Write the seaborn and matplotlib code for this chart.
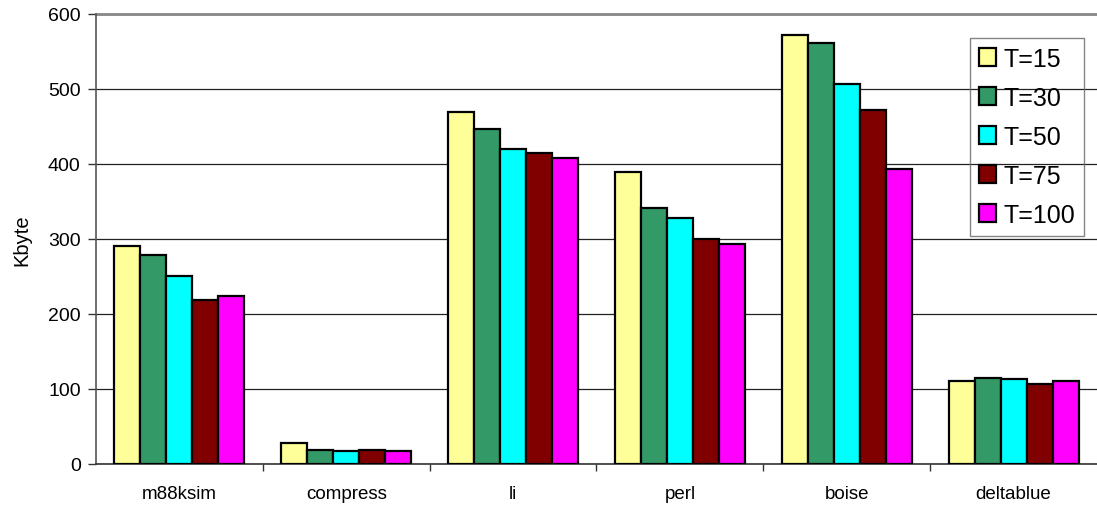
import matplotlib
matplotlib.use("Agg")
import matplotlib.pyplot as plt
import seaborn as sns
import pandas as pd
import numpy as np

programs = ["m88ksim", "compress", "li", "perl", "boise", "deltablue"]
series_labels = ["T=15", "T=30", "T=50", "T=75", "T=100"]
t15 = [291, 28, 469, 389, 572, 111]
t30 = [279, 19, 446, 341, 561, 114]
t50 = [251, 17, 420, 327, 506, 113]
t75 = [219, 18, 414, 300, 472, 106]
t100 = [224, 17, 408, 293, 393, 111]
colors = ["#FFFF99", "#339966", "#00FFFF", "#800000", "#FF00FF"]
y_ticks = [0, 100, 200, 300, 400, 500, 600]
y_label = "Kbyte"

series_values = [t15, t30, t50, t75, t100]
rows = []
for lab, vals in zip(series_labels, series_values):
    for p, v in zip(programs, vals):
        rows.append({"program": p, "T": lab, "kb": v})
df = pd.DataFrame(rows)

sns.set_theme(style="white")
plt.rcParams["font.family"] = ["Liberation Sans", "DejaVu Sans"]
plt.rcParams["text.color"] = "black"
plt.rcParams["axes.labelcolor"] = "black"
plt.rcParams["xtick.color"] = "black"
plt.rcParams["ytick.color"] = "black"

fig = plt.figure(figsize=(10.97, 5.10), dpi=100)
ax = fig.add_axes([96 / 1097, 1 - 465 / 510, 1 - 96 / 1097, (465 - 14.5) / 510])

sns.barplot(data=df, x="program", y="kb", hue="T", order=programs,
            hue_order=series_labels, palette=colors, width=0.78,
            edgecolor="black", linewidth=1.6, saturation=1, ax=ax,
            errorbar=None, zorder=3)

ax.set_xlim(-0.5, len(programs) - 0.5)
ax.set_ylim(0, 600)
ax.set_yticks(y_ticks)
ax.set_yticklabels([str(t) for t in y_ticks], fontsize=14, color="black")
ax.yaxis.grid(True, color="#222222", linewidth=0.9, zorder=0)
ax.set_axisbelow(True)
ax.set_xlabel("")
ax.set_ylabel(y_label, fontsize=14.5, color="black", labelpad=12)

ax.set_xticks(range(len(programs)))
ax.set_xticklabels(programs, fontsize=13.5, color="black")
ax.tick_params(axis="x", which="major", length=0, pad=15)
ax.set_xticks(np.arange(0.5, len(programs) - 0.5, 1.0), minor=True)
ax.tick_params(axis="x", which="minor", length=5, width=1, color="#333333", bottom=True)
ax.tick_params(axis="y", which="major", length=6, width=1, color="#333333", left=True, pad=5)

for s in ["top", "right"]:
    ax.spines[s].set_visible(False)
ax.spines["left"].set_color("#555555")
ax.spines["left"].set_linewidth(1.2)
ax.spines["bottom"].set_color("#333333")
ax.spines["bottom"].set_linewidth(1.2)

# top edge of the plot area drawn as a slightly heavier gray line
ax.axhline(600, color="#888888", linewidth=2.0, zorder=1, clip_on=False)

handles, labels = ax.get_legend_handles_labels()
leg = ax.legend(handles, labels, loc="upper left",
                bbox_to_anchor=(970 / 1097, 1 - 39 / 510),
                bbox_transform=fig.transFigure, borderaxespad=0,
                fontsize=18, frameon=True, fancybox=False,
                handlelength=0.7, handleheight=0.7, handletextpad=0.3,
                labelspacing=0.6, borderpad=0.35)
leg.get_frame().set_facecolor("none")
leg.get_frame().set_edgecolor("#666666")
leg.get_frame().set_linewidth(1.0)
for t in leg.get_texts():
    t.set_color("black")

fig.savefig("out.png", dpi=100)
